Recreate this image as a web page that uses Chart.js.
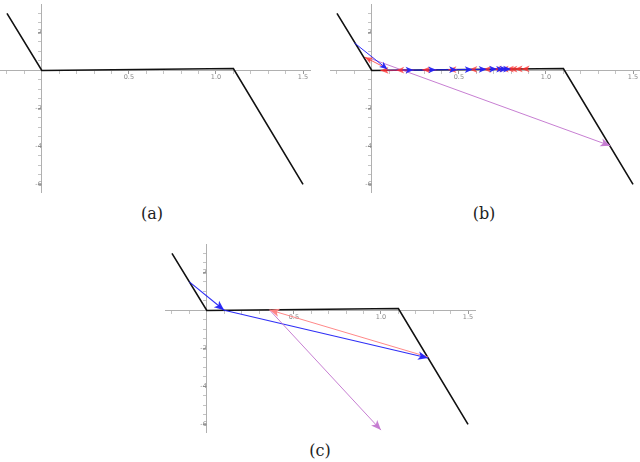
<!DOCTYPE html>
<html><head><meta charset="utf-8">
<script src="https://cdn.jsdelivr.net/npm/chart.js@4.4.1/dist/chart.umd.min.js"></script>
<style>
html,body{margin:0;padding:0;background:#fff;width:640px;height:462px;overflow:hidden}
.box{position:absolute}
.cap{position:absolute;font-family:"DejaVu Serif","Liberation Serif",serif;font-size:16px;color:#222;transform:translate(-50%,-50%);white-space:nowrap}
</style></head><body>
<div class="box" style="left:0px;top:0px;width:318px;height:198px"><canvas id="ca"></canvas></div>
<div class="box" style="left:330px;top:0px;width:310px;height:198px"><canvas id="cb"></canvas></div>
<div class="box" style="left:165px;top:240px;width:318px;height:198px"><canvas id="cc"></canvas></div>
<div class="cap" style="left:152px;top:213px">(a)</div>
<div class="cap" style="left:484px;top:213px">(b)</div>
<div class="cap" style="left:320px;top:450px">(c)</div>
<script>
// ---- data ----
const curveX = [-0.2, 0.0, 1.1, 1.5];
const curveY = [3.0, 0.0, 0.1, -6.0];

const xTicks = [-0.2,-0.1,0,0.1,0.2,0.3,0.4,0.5,0.6,0.7,0.8,0.9,1.0,1.1,1.2,1.3,1.4,1.5];
const xLabelTicks = [0.5, 1.0, 1.5];
const yTicks = [-6,-5.5,-5,-4.5,-4,-3.5,-3,-2.5,-2,-1.5,-1,-0.5,0,0.5,1,1.5,2,2.5,3];
const yLabelTicks = [-6, -4, -2, 2];

// panel (b)
const bBlueX0 = [-0.10, 0.09, 0.14, 0.29, 0.44, 0.56, 0.64, 0.70, 0.74, 0.77];
const bBlueY0 = [1.45, 0.01, 0.01, 0.03, 0.04, 0.05, 0.06, 0.06, 0.07, 0.07];
const bBlueX1 = [0.09, 0.24, 0.37, 0.49, 0.58, 0.66, 0.72, 0.76, 0.78, 0.80];
const bBlueY1 = [0.06, 0.02, 0.03, 0.04, 0.05, 0.06, 0.07, 0.07, 0.07, 0.07];
const bRedX0 = [0.09, 0.14, 0.24, 0.37, 0.49, 0.58, 0.66, 0.72, 0.76, 0.78, 0.80, 0.86, 0.90];
const bRedY0 = [0.08, 0.01, 0.02, 0.03, 0.04, 0.05, 0.06, 0.07, 0.07, 0.07, 0.07, 0.08, 0.08];
const bRedX1 = [-0.04, 0.05, 0.14, 0.29, 0.44, 0.56, 0.64, 0.70, 0.74, 0.77, 0.79, 0.82, 0.86];
const bRedY1 = [0.70, 0.00, 0.01, 0.03, 0.04, 0.05, 0.06, 0.06, 0.07, 0.07, 0.07, 0.07, 0.08];
const bPurpleX = [0.0, 1.37];
const bPurpleY = [0.6, -3.97];

// panel (c)
const cBlueX0 = [-0.10, 0.10];
const cBlueY0 = [1.50, 0.01];
const cBlueX1 = [0.10, 1.27];
const cBlueY1 = [0.01, -2.50];
const cRedX = [1.27, 0.36];
const cRedY = [-2.45, 0.03];
const cPurpleX = [0.36, 1.00];
const cPurpleY = [0.03, -6.30];

// ---- helpers ----
const near = (a, list) => list.some(v => Math.abs(v - a) < 1e-9);

function curveDataset(){
  return {data: curveX.map((x,i)=>({x, y: curveY[i]})), borderColor:'#111', borderWidth:1.6,
    showLine:true, pointRadius:0, fill:false, order:5};
}
function arrowDatasets(x0,y0,x1,y1,color,head,width){
  return x0.map((_,i)=>({data:[{x:x0[i],y:y0[i]},{x:x1[i],y:y1[i]}], borderColor:color,
    borderWidth:width||1, showLine:true, pointRadius:0, fill:false, arrowHead:head, arrowColor:color, order:1}));
}

const arrowPlugin = {
  id:'arrows',
  afterDatasetsDraw(chart){
    const ctx = chart.ctx;
    chart.data.datasets.forEach((ds,i)=>{
      if(!ds.arrowHead) return;
      const pts = chart.getDatasetMeta(i).data;
      const a = pts[pts.length-2], b = pts[pts.length-1];
      const ang = Math.atan2(b.y-a.y, b.x-a.x);
      const L = ds.arrowHead, W = L*0.42;
      ctx.save();
      ctx.translate(b.x,b.y); ctx.rotate(ang);
      ctx.beginPath();
      ctx.moveTo(0,0); ctx.lineTo(-L,-W); ctx.lineTo(-L*0.75,0); ctx.lineTo(-L,W); ctx.closePath();
      ctx.fillStyle = ds.arrowColor; ctx.fill();
      ctx.restore();
    });
  }
};

function scales(){
  return {
    x:{type:'linear', position:{y:0}, min:-0.24, max:1.54,
      afterBuildTicks(s){ s.ticks = xTicks.map(v=>({value:v})); },
      ticks:{autoSkip:false, maxRotation:0, minRotation:0, padding:0, color:'#8a8a8a',
        font:{size:6.5, family:'DejaVu Sans'},
        callback(v){ return near(v,xLabelTicks) ? v.toFixed(1) : ''; }},
      grid:{drawOnChartArea:false, drawTicks:true, tickLength:3,
        tickColor:(c)=> (c.tick && near(c.tick.value,xLabelTicks)) ? '#999' : '#c4c4c4'},
      border:{color:'#b0b0b0', width:1}},
    y:{type:'linear', position:{x:0}, min:-6.4, max:3.45,
      afterBuildTicks(s){ s.ticks = yTicks.map(v=>({value:v})); },
      ticks:{autoSkip:false, padding:1, color:'#8a8a8a', font:{size:6.5, family:'DejaVu Sans'},
        callback(v){ return near(v,yLabelTicks) ? String(v) : ''; }},
      grid:{drawOnChartArea:false, drawTicks:true, tickLength:3,
        tickColor:(c)=> (c.tick && near(c.tick.value,yLabelTicks)) ? '#999' : '#c4c4c4'},
      border:{color:'#b0b0b0', width:1}}
  };
}

function makeChart(id, datasets, pad){
  return new Chart(document.getElementById(id), {
    type:'scatter',
    data:{datasets},
    options:{responsive:true, maintainAspectRatio:false, animation:false,
      layout:{padding:pad},
      plugins:{legend:{display:false}, tooltip:{enabled:false}},
      scales:scales()},
    plugins:[arrowPlugin]
  });
}

const blue = 'rgba(35,35,245,0.95)';
const redB = 'rgba(255,45,45,0.75)';
const redC = 'rgba(255,130,130,0.95)';
const purple = 'rgba(196,120,208,0.95)';

makeChart('ca', [curveDataset()], {left:0, top:2, right:8, bottom:6});

makeChart('cb', [curveDataset()]
  .concat(arrowDatasets(bRedX0,bRedY0,bRedX1,bRedY1,redB,8,1))
  .concat(arrowDatasets(bBlueX0,bBlueY0,bBlueX1,bBlueY1,blue,8,1))
  .concat(arrowDatasets([bPurpleX[0]],[bPurpleY[0]],[bPurpleX[1]],[bPurpleY[1]],purple,10,1)),
  {left:0, top:2, right:0, bottom:6});

makeChart('cc', [curveDataset()]
  .concat(arrowDatasets([cRedX[0]],[cRedY[0]],[cRedX[1]],[cRedY[1]],redC,10,1))
  .concat(arrowDatasets([cPurpleX[0]],[cPurpleY[0]],[cPurpleX[1]],[cPurpleY[1]],purple,10,1))
  .concat(arrowDatasets(cBlueX0,cBlueY0,cBlueX1,cBlueY1,blue,10,1.1)),
  {left:0, top:2, right:8, bottom:6});
</script>
</body></html>
